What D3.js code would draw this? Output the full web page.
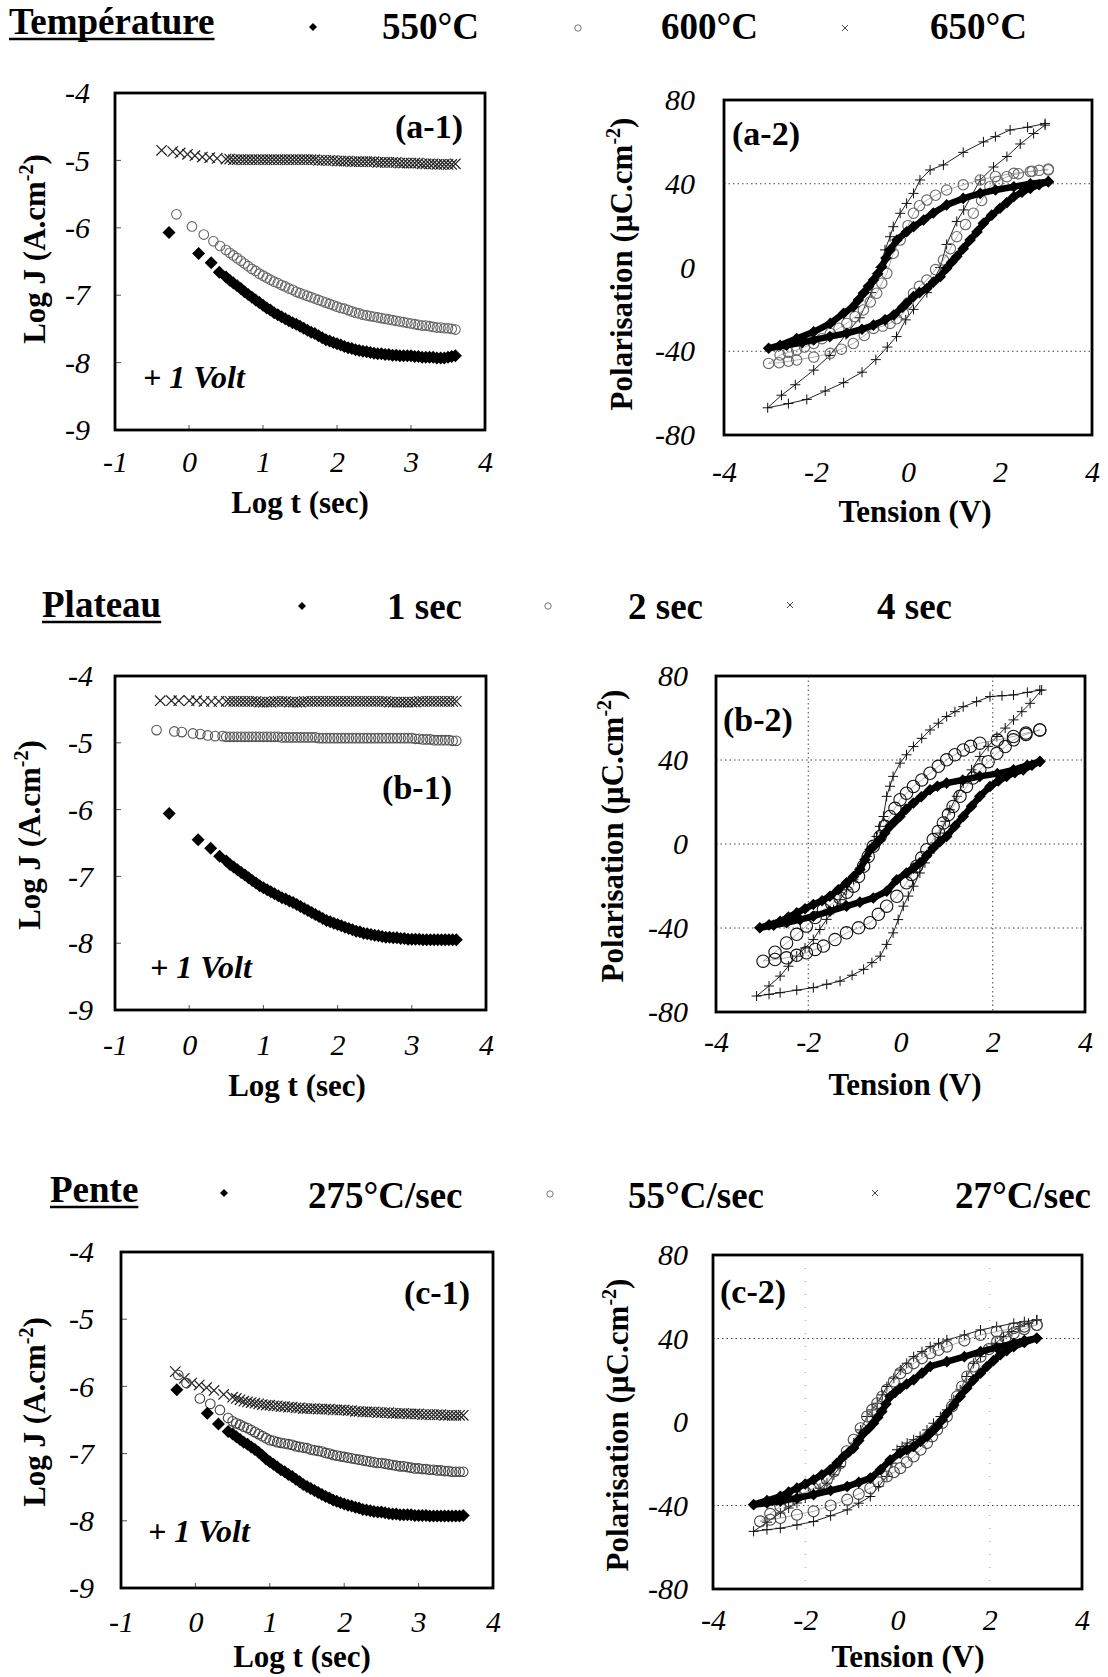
<!DOCTYPE html>
<html><head><meta charset="utf-8">
<script src="https://cdn.jsdelivr.net/npm/d3@7"></script>
<style>
html,body{margin:0;padding:0;background:#fff;}
svg{display:block;}
text{font-family:"Liberation Serif","Times New Roman",serif;fill:#000;}
</style></head><body>
<svg id="chart" width="1108" height="1677"></svg>
<script>
// ---------------- DATA ----------------
const groupTitles = ["Température", "Plateau", "Pente"];
const groupLabels = [["550°C", "600°C", "650°C"], ["1 sec", "2 sec", "4 sec"], ["275°C/sec", "55°C/sec", "27°C/sec"]];
const panelNames = ["(a-1)", "(a-2)", "(b-1)", "(b-2)", "(c-1)", "(c-2)"];
const jtXTicks = [-1, 0, 1, 2, 3, 4];
const jtYTicks = [-4, -5, -6, -7, -8, -9];
const pvXTicks = [-4, -2, 0, 2, 4];
const pvYTicks = [80, 40, 0, -40, -80];
const voltLabel = "+ 1 Volt";

// Log t grid of the dense part of the J(t) records
const logT = [0.50,0.55,0.60,0.65,0.70,0.75,0.80,0.85,0.90,0.95,
  1.00,1.05,1.10,1.15,1.20,1.25,1.30,1.35,1.40,1.45,
  1.50,1.55,1.60,1.65,1.70,1.75,1.80,1.85,1.90,1.95,
  2.00,2.05,2.10,2.15,2.20,2.25,2.30,2.35,2.40,2.45,
  2.50,2.55,2.60,2.65,2.70,2.75,2.80,2.85,2.90,2.95,
  3.00,3.05,3.10,3.15,3.20,3.25,3.30,3.35,3.40,3.45,
  3.50,3.55,3.60];

// (a-1) Temperature
const a1_550_early = [[-0.27,-6.07],[0.13,-6.38],[0.30,-6.52],[0.41,-6.66]];
const a1_550 = [-6.73,-6.78,-6.82,-6.86,-6.90,-6.95,-6.99,-7.03,-7.07,-7.11,
  -7.15,-7.19,-7.22,-7.26,-7.29,-7.32,-7.35,-7.38,-7.41,-7.43,
  -7.46,-7.49,-7.52,-7.55,-7.57,-7.60,-7.63,-7.66,-7.68,-7.70,
  -7.72,-7.74,-7.76,-7.78,-7.79,-7.81,-7.82,-7.83,-7.84,-7.85,
  -7.86,-7.87,-7.87,-7.88,-7.88,-7.89,-7.89,-7.90,-7.90,-7.90,
  -7.90,-7.91,-7.91,-7.92,-7.92,-7.92,-7.92,-7.93,-7.93,-7.93,
  -7.92,-7.91,-7.90];
const a1_600_early = [[-0.17,-5.80],[0.04,-5.98],[0.20,-6.10],[0.33,-6.20],[0.42,-6.27]];
const a1_600 = [-6.33,-6.37,-6.41,-6.45,-6.49,-6.53,-6.57,-6.61,-6.64,-6.68,
  -6.71,-6.74,-6.77,-6.80,-6.82,-6.85,-6.87,-6.90,-6.92,-6.95,
  -6.97,-6.99,-7.01,-7.03,-7.05,-7.07,-7.09,-7.11,-7.13,-7.15,
  -7.17,-7.19,-7.20,-7.22,-7.24,-7.26,-7.27,-7.29,-7.30,-7.31,
  -7.32,-7.33,-7.34,-7.35,-7.36,-7.37,-7.38,-7.39,-7.40,-7.41,
  -7.42,-7.43,-7.44,-7.45,-7.45,-7.46,-7.47,-7.48,-7.48,-7.49,
  -7.49,-7.50,-7.51];
const a1_650_early = [[-0.37,-4.85],[-0.22,-4.87],[-0.12,-4.89],[-0.02,-4.91],[0.08,-4.93],[0.18,-4.95],[0.28,-4.96],[0.38,-4.97]];
const a1_650 = [-4.98,-4.98,-4.99,-4.99,-4.99,-4.99,-4.99,-4.99,-4.99,-4.99,
  -4.99,-4.99,-4.99,-4.99,-4.99,-4.99,-4.99,-4.99,-4.99,-4.99,
  -4.99,-4.99,-4.99,-4.99,-4.99,-5.00,-5.00,-5.00,-5.00,-5.00,
  -5.01,-5.01,-5.01,-5.01,-5.02,-5.02,-5.02,-5.02,-5.02,-5.02,
  -5.02,-5.03,-5.03,-5.03,-5.03,-5.03,-5.03,-5.04,-5.04,-5.04,
  -5.04,-5.04,-5.04,-5.05,-5.05,-5.05,-5.05,-5.06,-5.06,-5.06,
  -5.06,-5.06,-5.05];

// (b-1) Plateau
const b1_1s_early = [[-0.27,-6.06],[0.12,-6.45],[0.29,-6.58],[0.41,-6.70]];
const b1_1s = [-6.77,-6.82,-6.86,-6.90,-6.94,-6.98,-7.02,-7.06,-7.10,-7.14,
  -7.17,-7.20,-7.23,-7.26,-7.29,-7.32,-7.34,-7.37,-7.39,-7.42,
  -7.45,-7.48,-7.51,-7.54,-7.57,-7.60,-7.63,-7.66,-7.68,-7.70,
  -7.72,-7.74,-7.76,-7.78,-7.80,-7.82,-7.83,-7.85,-7.86,-7.87,
  -7.88,-7.89,-7.90,-7.91,-7.91,-7.92,-7.92,-7.93,-7.93,-7.94,
  -7.94,-7.94,-7.94,-7.95,-7.95,-7.95,-7.95,-7.95,-7.95,-7.95,
  -7.95,-7.95,-7.95];
const b1_2s_early = [[-0.44,-4.81],[-0.20,-4.83],[-0.10,-4.84],[0.05,-4.86],[0.15,-4.87],[0.25,-4.89],[0.35,-4.90],[0.45,-4.90]];
const b1_2s = [-4.91,-4.91,-4.91,-4.91,-4.91,-4.91,-4.91,-4.91,-4.91,-4.91,
  -4.91,-4.91,-4.91,-4.91,-4.91,-4.92,-4.92,-4.92,-4.92,-4.92,
  -4.92,-4.92,-4.92,-4.92,-4.92,-4.93,-4.93,-4.93,-4.93,-4.93,
  -4.93,-4.93,-4.93,-4.93,-4.93,-4.93,-4.93,-4.93,-4.93,-4.93,
  -4.93,-4.93,-4.93,-4.93,-4.93,-4.93,-4.93,-4.93,-4.93,-4.93,
  -4.93,-4.94,-4.94,-4.95,-4.95,-4.95,-4.96,-4.96,-4.96,-4.96,
  -4.96,-4.97,-4.97];
const b1_4s_early = [[-0.39,-4.37],[-0.24,-4.37],[-0.14,-4.37],[0.00,-4.37],[0.10,-4.37],[0.20,-4.38],[0.30,-4.38],[0.40,-4.38]];
const b1_4s = [-4.38,-4.38,-4.38,-4.38,-4.38,-4.38,-4.38,-4.38,-4.38,-4.39,
  -4.39,-4.39,-4.39,-4.38,-4.38,-4.38,-4.38,-4.39,-4.39,-4.39,
  -4.39,-4.38,-4.38,-4.38,-4.38,-4.38,-4.38,-4.38,-4.38,-4.38,
  -4.38,-4.38,-4.38,-4.38,-4.38,-4.38,-4.38,-4.38,-4.38,-4.38,
  -4.38,-4.38,-4.38,-4.38,-4.39,-4.39,-4.39,-4.39,-4.39,-4.39,
  -4.39,-4.39,-4.38,-4.38,-4.38,-4.38,-4.38,-4.38,-4.38,-4.38,
  -4.38,-4.38,-4.38];

// (c-1) Pente
const c1_275_early = [[-0.25,-6.05],[0.16,-6.40],[0.31,-6.56],[0.44,-6.67]];
const c1_275 = [-6.71,-6.75,-6.79,-6.83,-6.86,-6.90,-6.94,-6.98,-7.03,-7.08,
  -7.12,-7.16,-7.20,-7.24,-7.27,-7.31,-7.34,-7.38,-7.42,-7.46,
  -7.49,-7.52,-7.55,-7.58,-7.61,-7.64,-7.66,-7.69,-7.71,-7.73,
  -7.75,-7.77,-7.78,-7.80,-7.81,-7.83,-7.84,-7.85,-7.86,-7.87,
  -7.87,-7.88,-7.89,-7.90,-7.90,-7.91,-7.91,-7.91,-7.91,-7.92,
  -7.92,-7.92,-7.92,-7.93,-7.93,-7.93,-7.93,-7.93,-7.93,-7.93,
  -7.93,-7.93,-7.92];
const c1_55_early = [[-0.23,-5.83],[-0.12,-5.95],[0.06,-6.18],[0.20,-6.26],[0.33,-6.35],[0.44,-6.47]];
const c1_55 = [-6.52,-6.55,-6.57,-6.60,-6.62,-6.65,-6.68,-6.71,-6.74,-6.77,
  -6.80,-6.81,-6.83,-6.84,-6.85,-6.86,-6.87,-6.89,-6.90,-6.91,
  -6.92,-6.94,-6.95,-6.96,-6.97,-6.99,-7.00,-7.02,-7.03,-7.04,
  -7.05,-7.06,-7.07,-7.08,-7.09,-7.10,-7.11,-7.12,-7.13,-7.14,
  -7.14,-7.15,-7.16,-7.17,-7.18,-7.19,-7.19,-7.20,-7.21,-7.22,
  -7.22,-7.23,-7.23,-7.24,-7.24,-7.25,-7.25,-7.26,-7.26,-7.27,
  -7.27,-7.27,-7.27];
const c1_27_early = [[-0.27,-5.78],[-0.15,-5.88],[-0.05,-5.95],[0.05,-5.98],[0.15,-6.02],[0.25,-6.06],[0.38,-6.12]];
const c1_27 = [-6.16,-6.18,-6.20,-6.22,-6.23,-6.24,-6.25,-6.26,-6.27,-6.28,
  -6.28,-6.29,-6.29,-6.30,-6.30,-6.31,-6.31,-6.32,-6.32,-6.33,
  -6.33,-6.33,-6.33,-6.34,-6.34,-6.34,-6.34,-6.35,-6.35,-6.35,
  -6.35,-6.36,-6.36,-6.37,-6.37,-6.38,-6.38,-6.38,-6.38,-6.39,
  -6.39,-6.39,-6.39,-6.40,-6.40,-6.40,-6.40,-6.41,-6.41,-6.41,
  -6.41,-6.42,-6.42,-6.42,-6.42,-6.42,-6.42,-6.43,-6.43,-6.43,
  -6.43,-6.43,-6.43];

// P(V) loops: [V, P], descending branch then ascending branch
const a2_550 = [[3.05,41],[2.66,40],[2.3,38.6],[1.9,37],[1.57,35.4],[1.2,33],[0.84,29.9],[0.55,26],[0.34,22.7],[0.12,19.5],[-0.03,17.1],[-0.24,13.1],[-0.39,8.4],[-0.48,4.5],[-0.57,0.4],[-0.66,-3],[-0.75,-6],[-0.86,-9],[-0.97,-12.3],[-1.08,-15.5],[-1.19,-18.7],[-1.4,-21.9],[-1.69,-26.7],[-2.05,-30.7],[-2.42,-33.9],[-2.78,-37.1],[-3.03,-38.6],
  [-2.64,-37.1],[-2.3,-35.8],[-2.05,-34.6],[-1.7,-33],[-1.33,-31.4],[-1.0,-29.5],[-0.75,-27.5],[-0.5,-25],[-0.31,-22.7],[-0.12,-19],[-0.03,-17.1],[0.12,-13.9],[0.25,-12],[0.41,-10],[0.55,-7],[0.7,-4.4],[0.84,-0.4],[0.95,2.5],[1.06,5.2],[1.2,9],[1.35,13.1],[1.5,17],[1.64,21.1],[1.82,25],[2.0,28.3],[2.15,31],[2.3,33.8],[2.48,36],[2.66,37.8],[2.85,39.5],[3.05,41]];
const a2_600 = [[3.05,46.6],[2.7,46],[2.3,45],[1.9,43.5],[1.57,41.8],[1.2,39.5],[0.84,37],[0.6,34.5],[0.41,32.2],[0.25,29.5],[0.12,25.9],[0,20],[-0.17,13.1],[-0.32,6.8],[-0.46,-2.8],[-0.57,-7.5],[-0.68,-12.3],[-0.82,-16.5],[-0.97,-20.3],[-1.15,-23.5],[-1.33,-26.7],[-1.5,-29],[-1.69,-31.5],[-1.87,-34],[-2.05,-36.3],[-2.25,-38],[-2.42,-39.4],[-2.6,-40.6],[-2.78,-41.8],[-3.03,-45.8],
  [-2.8,-45.5],[-2.6,-44.8],[-2.42,-44.2],[-2.05,-42.8],[-1.69,-41],[-1.45,-39],[-1.19,-36.3],[-0.95,-32.5],[-0.75,-29.1],[-0.55,-28],[-0.39,-26.7],[-0.25,-24.5],[-0.1,-21.9],[0.0,-17],[0.12,-12.3],[0.25,-9],[0.41,-6],[0.6,-1],[0.77,3.6],[0.92,9],[1.06,14.7],[1.25,20.5],[1.42,25.9],[1.6,32],[1.78,38.6],[1.95,41],[2.15,43.4],[2.4,44.8],[2.66,45.8],[2.85,46.4],[3.05,47]];
const a2_650 = [[2.98,68.8],[2.6,67],[2.22,65.7],[1.9,62.5],[1.64,60],[1.2,55],[0.77,49],[0.48,46.6],[0.26,41.8],[0.12,35.4],[-0.03,30.6],[-0.17,25.9],[-0.32,19.5],[-0.39,14.7],[-0.5,8.4],[-0.6,0],[-0.8,-12],[-1.05,-24],[-1.35,-32],[-1.7,-42],[-2.05,-49],[-2.45,-56],[-2.75,-61],[-3.05,-67],
  [-2.6,-65],[-2.2,-63],[-1.8,-59],[-1.4,-55],[-1.0,-50],[-0.7,-44],[-0.45,-38],[-0.25,-33],[-0.05,-25],[0.12,-20],[0.41,-12],[0.7,0],[0.84,11],[1.06,22],[1.21,27.5],[1.57,41.8],[1.86,48],[2.15,53],[2.44,59],[2.73,64],[2.98,68]];

const b2_1s = [[3.02,39.3],[2.75,37.5],[2.45,35.3],[2.1,33.5],[1.72,32.2],[1.35,30.5],[1.0,29],[0.8,27.5],[0.64,25.8],[0.45,22.5],[0.28,19.5],[0.12,16.5],[-0.01,13.1],[-0.12,10.8],[-0.23,8.4],[-0.34,5.2],[-0.44,2.1],[-0.55,-0.5],[-0.66,-2.7],[-0.77,-7.5],[-0.88,-12.2],[-1.02,-15.5],[-1.17,-18.5],[-1.35,-21.8],[-1.53,-24.9],[-1.7,-27],[-1.89,-28.8],[-2.07,-30.8],[-2.25,-32.8],[-2.43,-34.8],[-2.61,-36.8],[-2.85,-38.5],[-3.05,-39.9],
  [-2.75,-38.7],[-2.47,-37.5],[-2.18,-36],[-1.89,-34.4],[-1.53,-32],[-1.17,-29.6],[-0.88,-27.7],[-0.59,-25.7],[-0.3,-22.5],[-0.08,-17],[0.13,-13.8],[0.28,-11.5],[0.42,-9],[0.57,-5.5],[0.71,-1.9],[0.85,1],[1.0,3.6],[1.18,8.5],[1.36,13.1],[1.54,18],[1.72,22.7],[1.94,27.4],[2.12,30],[2.3,32.2],[2.48,34],[2.66,35.3],[2.85,37.5],[3.02,39.3]];
const b2_2s = [[3.02,54.3],[2.72,52.8],[2.45,51.2],[2.1,49.5],[1.72,48],[1.52,46.5],[1.36,44.8],[1.18,42.5],[1.0,40.1],[0.82,37],[0.64,33.7],[0.46,30.5],[0.28,27.4],[0.13,24.2],[-0.01,21.1],[-0.12,17],[-0.23,13.1],[-0.34,8.5],[-0.44,3.6],[-0.59,-1.1],[-0.7,-6],[-0.8,-10.6],[-0.91,-15.5],[-1.02,-20.1],[-1.16,-23],[-1.31,-25.7],[-1.49,-28.5],[-1.67,-31.2],[-1.85,-35],[-2.04,-39.1],[-2.25,-43],[-2.47,-47.1],[-2.72,-51.5],[-2.98,-55.8],
  [-2.72,-55],[-2.47,-54.2],[-2.25,-53],[-2.04,-51.8],[-1.85,-50.2],[-1.67,-48.6],[-1.42,-45.5],[-1.17,-42.3],[-0.91,-39.9],[-0.66,-37.5],[-0.48,-33.5],[-0.3,-29.6],[-0.08,-24.9],[0.13,-18.5],[0.24,-14.5],[0.35,-10.6],[0.46,-6.6],[0.57,-2.7],[0.71,2.1],[0.82,6],[0.93,10],[1.04,14],[1.14,17.9],[1.29,22.7],[1.43,27.4],[1.57,31.4],[1.72,35.3],[1.9,39.2],[2.09,43.2],[2.27,46.4],[2.45,49.6],[2.72,52.2],[3.02,54.3]];
const b2_4s = [[3.02,73.3],[2.75,72.2],[2.45,71],[2.2,70.6],[1.94,70.2],[1.65,67.8],[1.36,65.4],[1.18,63],[1.0,60.7],[0.82,57.5],[0.64,54.3],[0.46,50.3],[0.28,46.4],[0.13,42.5],[-0.01,38.5],[-0.16,32.2],[-0.23,27.5],[-0.3,22.7],[-0.37,13.1],[-0.45,8.4],[-0.52,3.6],[-0.62,-1.2],[-0.73,-5.9],[-0.88,-11.5],[-1.02,-17],[-1.17,-21.8],[-1.31,-26.5],[-1.45,-31.2],[-1.6,-35.9],[-1.75,-40.7],[-1.89,-45.5],[-2.07,-49.5],[-2.25,-53.4],[-2.43,-58.2],[-2.61,-62.9],[-2.85,-67.6],[-3.12,-72.4],
  [-2.85,-71.6],[-2.61,-70.8],[-2.25,-69.6],[-1.89,-68.4],[-1.6,-66.8],[-1.31,-65.3],[-1.05,-62.5],[-0.8,-59.7],[-0.62,-56.5],[-0.44,-53.4],[-0.3,-47.8],[-0.16,-42.3],[-0.05,-36],[0.06,-29.6],[0.17,-24.8],[0.28,-20.1],[0.42,-13.8],[0.53,-9],[0.64,-4.3],[0.75,0.5],[0.86,5.2],[0.97,10.8],[1.07,16.3],[1.22,22.7],[1.36,29],[1.54,35.3],[1.72,41.7],[1.9,46.5],[2.09,51.2],[2.27,55.2],[2.45,59.1],[2.63,63],[2.81,67],[3.06,73.3]];

const c2_275 = [[3.02,40.1],[2.75,39],[2.52,37.7],[2.15,35.7],[1.8,33.7],[1.45,31.3],[1.07,28.9],[0.71,26.6],[0.53,23.4],[0.35,20.2],[0.2,18.2],[0.06,16.2],[-0.05,14.2],[-0.16,12.2],[-0.25,8.6],[-0.34,5],[-0.43,2.2],[-0.52,-0.6],[-0.62,-3],[-0.73,-5.3],[-0.84,-8.9],[-0.95,-12.5],[-1.06,-14.5],[-1.17,-16.5],[-1.31,-19.7],[-1.46,-22.9],[-1.64,-25.3],[-1.82,-27.7],[-2.0,-29.7],[-2.18,-31.7],[-2.36,-33.6],[-2.54,-35.6],[-2.83,-37.6],[-3.12,-39.6],
  [-2.83,-38.8],[-2.54,-38],[-2.18,-36.4],[-1.82,-34.8],[-1.45,-32.8],[-1.09,-30.9],[-0.84,-28.9],[-0.59,-26.9],[-0.37,-22.9],[-0.16,-18.2],[0.06,-14.9],[0.2,-13.3],[0.35,-11.7],[0.5,-9.3],[0.64,-6.9],[0.75,-4.5],[0.86,-2.1],[0.97,1],[1.07,4.2],[1.22,8.2],[1.36,12.2],[1.5,16.2],[1.65,20.2],[1.8,23.4],[1.94,26.6],[2.08,29.4],[2.23,32.2],[2.37,34.2],[2.52,36.1],[2.75,38.1],[3.02,40.1]];
const c2_55 = [[3.02,46.5],[2.75,45.7],[2.52,44.9],[2.15,43.3],[1.8,41.7],[1.45,39],[1.07,36.1],[0.89,34.5],[0.71,32.9],[0.53,30.5],[0.35,28.1],[0.2,25.8],[0.06,23.4],[-0.08,19.4],[-0.23,15.4],[-0.33,12.2],[-0.44,9],[-0.55,5.8],[-0.66,2.6],[-0.8,-3],[-0.95,-8.5],[-1.1,-14],[-1.24,-19.7],[-1.38,-23.7],[-1.53,-27.7],[-1.68,-29.7],[-1.82,-31.7],[-2.0,-33.6],[-2.18,-35.6],[-2.36,-38],[-2.54,-40.4],[-2.76,-44],[-2.98,-47.6],
  [-2.76,-46.8],[-2.54,-46],[-2.18,-44.4],[-1.82,-42.8],[-1.45,-40],[-1.09,-37.2],[-0.84,-34.5],[-0.59,-31.7],[-0.41,-28.9],[-0.23,-26.1],[-0.08,-24.1],[0.06,-22.1],[0.2,-19.3],[0.35,-16.5],[0.5,-13.3],[0.64,-10.1],[0.75,-6.9],[0.86,-3.7],[0.97,-0.5],[1.07,2.6],[1.18,7.4],[1.29,12.2],[1.4,17],[1.51,21.8],[1.65,26.6],[1.8,31.3],[1.98,34.9],[2.16,38.5],[2.34,40.5],[2.52,42.5],[2.75,44.5],[3.02,46.5]];
const c2_27 = [[3.02,48.9],[2.75,48.1],[2.52,47.3],[2.15,45.7],[1.8,44.1],[1.45,41.7],[1.07,39.3],[0.89,37.7],[0.71,36.1],[0.53,33.7],[0.35,31.3],[0.2,28.1],[0.06,24.9],[-0.08,21],[-0.23,17],[-0.33,13],[-0.44,9],[-0.55,5.8],[-0.66,2.6],[-0.8,-3.8],[-0.95,-10.1],[-1.1,-15.7],[-1.24,-21.3],[-1.38,-25.3],[-1.53,-29.3],[-1.68,-31.7],[-1.82,-34],[-2.0,-36.4],[-2.18,-38.8],[-2.36,-41.2],[-2.54,-43.6],[-2.83,-48],[-3.12,-52.4],
  [-2.83,-51.6],[-2.54,-50.9],[-2.18,-49.3],[-1.82,-47.7],[-1.45,-44.9],[-1.09,-42.1],[-0.84,-38.9],[-0.59,-35.7],[-0.41,-30.9],[-0.23,-26.1],[-0.12,-19.7],[-0.01,-13.3],[0.1,-11.7],[0.21,-10.1],[0.35,-8.5],[0.49,-6.9],[0.64,-3.8],[0.78,-0.6],[0.93,2.6],[1.07,5.8],[1.22,10.6],[1.36,15.4],[1.5,21.8],[1.65,28.1],[1.8,31.3],[1.94,34.5],[2.12,37.7],[2.3,40.9],[2.48,43.3],[2.66,45.7],[2.84,47.3],[3.02,48.9]];

// ---------------- DRAWING ----------------
const svg = d3.select("#chart");
const FONT = '"Liberation Serif","Times New Roman",serif';

function jt(early, dense) {
  const n = Math.min(logT.length, dense.length);
  return early.concat(logT.slice(0, n).map((t, i) => [t, dense[i]]));
}

function marker(g, pts, x, y, type, o) {
  const s = o.size;
  const gg = g.append("g");
  if (type === "diamond") {
    gg.selectAll("path").data(pts).join("path")
      .attr("d", `M0,${-s}L${s},0L0,${s}L${-s},0Z`)
      .attr("transform", d => `translate(${x(d[0])},${y(d[1])})`)
      .attr("fill", "#000");
  } else if (type === "circle") {
    gg.selectAll("circle").data(pts).join("circle")
      .attr("cx", d => x(d[0])).attr("cy", d => y(d[1])).attr("r", s)
      .attr("fill", "none")
      .attr("stroke", o.color || "#444").attr("stroke-width", o.sw || 1);
  } else if (type === "cross") {
    gg.selectAll("path").data(pts).join("path")
      .attr("d", `M${-s},${-s}L${s},${s}M${-s},${s}L${s},${-s}`)
      .attr("transform", d => `translate(${x(d[0])},${y(d[1])})`)
      .attr("stroke", o.color || "#222").attr("stroke-width", o.sw || 1).attr("fill", "none");
  } else if (type === "plus") {
    gg.selectAll("path").data(pts).join("path")
      .attr("d", `M${-s},0L${s},0M0,${-s}L0,${s}`)
      .attr("transform", d => `translate(${x(d[0])},${y(d[1])})`)
      .attr("stroke", o.color || "#111").attr("stroke-width", o.sw || 1).attr("fill", "none");
  }
}

function lineThrough(g, pts, x, y, w, color) {
  g.append("path").datum(pts)
    .attr("d", d3.line().x(d => x(d[0])).y(d => y(d[1])))
    .attr("fill", "none").attr("stroke", color).attr("stroke-width", w)
    .attr("stroke-linejoin", "round");
}

function axes(p, x, y, xt, yt) {
  const gx = svg.append("g").attr("transform", `translate(0,${p.y1})`)
    .call(d3.axisBottom(x).tickValues(xt).tickSize(0).tickPadding(p.xpad).tickFormat(d => String(d)));
  gx.select(".domain").remove();
  gx.selectAll("text").attr("font-family", FONT).attr("font-size", 30).attr("font-style", "italic").attr("fill", "#000");
  const gy = svg.append("g").attr("transform", `translate(${p.x0},0)`)
    .call(d3.axisLeft(y).tickValues(yt).tickSize(0).tickPadding(p.ypad).tickFormat(d => String(d)));
  gy.select(".domain").remove();
  gy.selectAll("text").attr("font-family", FONT).attr("font-size", 30).attr("font-style", "italic").attr("fill", "#000");
}

function innerTicks(p, x, y, xt, yt) {
  const g = svg.append("g").attr("stroke", "#555").attr("stroke-width", 1);
  yt.slice(1, -1).forEach(v => g.append("line").attr("x1", p.x0).attr("x2", p.x0 + 6).attr("y1", y(v)).attr("y2", y(v)));
  xt.slice(1, -1).forEach(v => g.append("line").attr("x1", x(v)).attr("x2", x(v)).attr("y1", p.y1).attr("y2", p.y1 - 5));
}

function frame(p) {
  svg.append("rect").attr("x", p.x0).attr("y", p.y0).attr("width", p.x1 - p.x0).attr("height", p.y1 - p.y0)
    .attr("fill", "none").attr("stroke", "#000").attr("stroke-width", 2.8);
}

function yTitle(p, main, sup, close) {
  const t = svg.append("text").attr("transform", `translate(${p.ytX},${p.ytY}) rotate(-90)`)
    .attr("text-anchor", "middle").attr("font-family", FONT).attr("font-size", 31).attr("font-weight", "bold");
  t.append("tspan").text(main);
  t.append("tspan").attr("font-size", 20).attr("dy", -12).text(sup);
  t.append("tspan").attr("dy", 12).text(close);
}

function xTitle(p, txt) {
  svg.append("text").attr("x", p.xtX).attr("y", p.xtY).attr("text-anchor", "middle")
    .attr("font-family", FONT).attr("font-size", 31).attr("font-weight", "bold").text(txt);
}

function panelLabel(p, txt) {
  svg.append("text").attr("x", p.lab.x).attr("y", p.lab.y).attr("text-anchor", p.lab.anchor)
    .attr("font-family", FONT).attr("font-size", 34).attr("font-weight", "bold").text(txt);
}

// ---- J(t) panels ----
const jtPanels = [
  {p:{x0:115,x1:485,y0:93,y1:430,xpad:21,ypad:25,ytX:45,ytY:249,xtX:300,xtY:513,lab:{x:463,y:138,anchor:"end"},volt:{x:143,y:388}},
   name:panelNames[0], s:[jt(a1_650_early,a1_650), jt(a1_600_early,a1_600), jt(a1_550_early,a1_550)], circ:"#666"},
  {p:{x0:115,x1:486,y0:676,y1:1010,xpad:24,ypad:22,ytX:40,ytY:835,xtX:297,xtY:1096,lab:{x:452,y:799,anchor:"end"},volt:{x:150,y:978}},
   name:panelNames[2], s:[jt(b1_4s_early,b1_4s), jt(b1_2s_early,b1_2s), jt(b1_1s_early,b1_1s)], circ:"#555"},
  {p:{x0:121,x1:493,y0:1252,y1:1588,xpad:23,ypad:27,ytX:45,ytY:1412,xtX:302,xtY:1667,lab:{x:470,y:1304,anchor:"end"},volt:{x:148,y:1542}},
   name:panelNames[4], s:[jt(c1_27_early,c1_27), jt(c1_55_early,c1_55), jt(c1_275_early,c1_275)], circ:"#444"}
];

jtPanels.forEach(P => {
  const p = P.p;
  const x = d3.scaleLinear().domain([-1, 4]).range([p.x0, p.x1]);
  const y = d3.scaleLinear().domain([-9, -4]).range([p.y1, p.y0]);
  const g = svg.append("g");
  marker(g, P.s[0], x, y, "cross", {size: 5.2, color: "#222", sw: 1.2});
  marker(g, P.s[1], x, y, "circle", {size: 4.8, color: P.circ, sw: 1.1});
  marker(g, P.s[2], x, y, "diamond", {size: 6.5});
  innerTicks(p, x, y, jtXTicks, jtYTicks);
  frame(p);
  axes(p, x, y, jtXTicks, jtYTicks);
  yTitle(p, "Log J (A.cm", "-2", ")");
  xTitle(p, "Log t (sec)");
  panelLabel(p, P.name);
  svg.append("text").attr("x", p.volt.x).attr("y", p.volt.y).attr("font-family", FONT)
    .attr("font-size", 32).attr("font-weight", "bold").attr("font-style", "italic").text(voltLabel);
});

// ---- P(V) panels ----
const pvPanels = [
  {p:{x0:724,x1:1092,y0:100,y1:435,xpad:26,ypad:29,ytX:632,ytY:264,xtX:915,xtY:522,lab:{x:732,y:145,anchor:"start"}},
   name:panelNames[1], s:[a2_650, a2_600, a2_550], hgrid:[40,-40], vgrid:[], vfaint:[], circ:"#666", cr:5.2},
  {p:{x0:716,x1:1085,y0:676,y1:1012,xpad:19,ypad:28,ytX:623,ytY:836,xtX:905,xtY:1095,lab:{x:723,y:731,anchor:"start"}},
   name:panelNames[3], s:[b2_4s, b2_2s, b2_1s], hgrid:[40,0,-40], vgrid:[-2,2], vfaint:[], circ:"#111", cr:6.2},
  {p:{x0:713,x1:1082,y0:1255,y1:1589,xpad:20,ypad:25,ytX:628,ytY:1425,xtX:908,xtY:1667,lab:{x:720,y:1303,anchor:"start"}},
   name:panelNames[5], s:[c2_27, c2_55, c2_275], hgrid:[40,-40], vgrid:[], vfaint:[-2,2], circ:"#444", cr:5.5}
];

pvPanels.forEach(P => {
  const p = P.p;
  const x = d3.scaleLinear().domain([-4, 4]).range([p.x0, p.x1]);
  const y = d3.scaleLinear().domain([-80, 80]).range([p.y1, p.y0]);
  const grid = svg.append("g").attr("fill", "none");
  P.hgrid.forEach(v => grid.append("line").attr("x1", p.x0).attr("x2", p.x1).attr("y1", y(v)).attr("y2", y(v))
    .attr("stroke", "#444").attr("stroke-width", 1).attr("stroke-dasharray", "1.5,3"));
  P.vgrid.forEach(v => grid.append("line").attr("x1", x(v)).attr("x2", x(v)).attr("y1", p.y0).attr("y2", p.y1)
    .attr("stroke", "#444").attr("stroke-width", 1).attr("stroke-dasharray", "1.5,3"));
  P.vfaint.forEach(v => grid.append("line").attr("x1", x(v)).attr("x2", x(v)).attr("y1", p.y0).attr("y2", p.y1)
    .attr("stroke", "#999").attr("stroke-width", 1).attr("stroke-dasharray", "1,12"));
  const g = svg.append("g");
  lineThrough(g, P.s[0], x, y, 1, "#222");
  marker(g, P.s[0], x, y, "plus", {size: 5, color: "#111", sw: 1});
  lineThrough(g, P.s[1], x, y, 0.8, "#999");
  marker(g, P.s[1], x, y, "circle", {size: P.cr, color: P.circ, sw: 1.1});
  lineThrough(g, P.s[2], x, y, 6.5, "#000");
  marker(g, P.s[2], x, y, "diamond", {size: 5.8});
  frame(p);
  axes(p, x, y, pvXTicks, pvYTicks);
  yTitle(p, "Polarisation (µC.cm", "-2", ")");
  xTitle(p, "Tension (V)");
  panelLabel(p, P.name);
});

// ---- Legend header rows ----
const headers = [
  {title:{x:9,y:34}, tb:38.5, marks:[{x:313,y:27},{x:578,y:28},{x:845,y:28}], labs:[382,661,930]},
  {title:{x:42,y:617}, tb:619, marks:[{x:302,y:606},{x:548,y:606},{x:790,y:605}], labs:[387,628,877]},
  {title:{x:50,y:1202}, tb:1207.5, marks:[{x:224,y:1193},{x:550,y:1194},{x:875,y:1193}], labs:[308,628,955]}
];
headers.forEach((h, i) => {
  const t = svg.append("text").attr("x", h.title.x).attr("y", h.title.y).attr("font-family", FONT)
    .attr("font-size", 37).attr("font-weight", "bold").text(groupTitles[i]);
  const w = t.node().getComputedTextLength();
  svg.append("line").attr("x1", h.title.x).attr("x2", h.title.x + w).attr("y1", h.title.y + 5).attr("y2", h.title.y + 5)
    .attr("stroke", "#000").attr("stroke-width", 2.4);
  const g = svg.append("g");
  const idx = d3.scaleIdentity();
  marker(g, [[h.marks[0].x, h.marks[0].y]], idx, idx, "diamond", {size: 4});
  marker(g, [[h.marks[1].x, h.marks[1].y]], idx, idx, "circle", {size: 3.2, color: "#777", sw: 1});
  marker(g, [[h.marks[2].x, h.marks[2].y]], idx, idx, "cross", {size: 3, color: "#444", sw: 1});
  groupLabels[i].forEach((lab, j) => {
    svg.append("text").attr("x", h.labs[j]).attr("y", h.tb).attr("font-family", FONT)
      .attr("font-size", 37).attr("font-weight", "bold").text(lab);
  });
});
</script></body></html>
